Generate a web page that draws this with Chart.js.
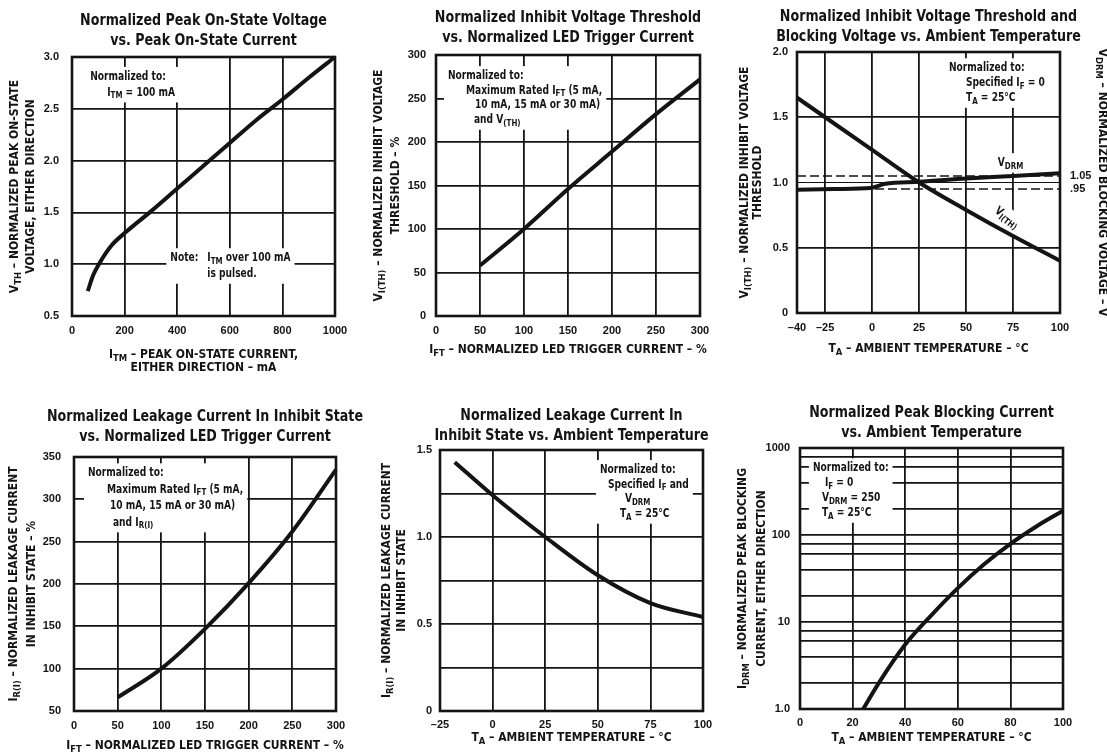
<!DOCTYPE html>
<html>
<head>
<meta charset="utf-8">
<script src="https://cdn.jsdelivr.net/npm/chart.js@4.4.1/dist/chart.umd.min.js"></script>
<style>
html, body { margin: 0; padding: 0; background: #fff; }
body { width: 1107px; height: 756px; position: relative; overflow: hidden; }
.panel { position: absolute; }
</style>
</head>
<body>
<div class="panel" id="p1"><canvas></canvas></div>
<div class="panel" id="p2"><canvas></canvas></div>
<div class="panel" id="p3"><canvas></canvas></div>
<div class="panel" id="p4"><canvas></canvas></div>
<div class="panel" id="p5"><canvas></canvas></div>
<div class="panel" id="p6"><canvas></canvas></div>
<script>
// 1: peak on-state voltage vs current
const onCurrent = [60, 80, 100, 150, 200, 300, 400, 500, 600, 700, 800, 900, 1000];
const onVoltage = [0.74, 0.89, 0.99, 1.18, 1.30, 1.51, 1.73, 1.95, 2.17, 2.39, 2.59, 2.80, 3.00];
const onCurrentTicks = [0, 200, 400, 600, 800, 1000];
const onCurrentLabels = ['0', '200', '400', '600', '800', '1000'];
const onVoltageTicks = [0.5, 1.0, 1.5, 2.0, 2.5, 3.0];
const onVoltageLabels = ['0.5', '1.0', '1.5', '2.0', '2.5', '3.0'];

// 2: inhibit threshold vs LED current
const ledCurrent = [50, 100, 150, 200, 250, 300];
const inhibitThreshold = [58, 100, 146, 189, 232, 272];
const pctTicks = [0, 50, 100, 150, 200, 250, 300];
const pctLabels = ['0', '50', '100', '150', '200', '250', '300'];

// 3: threshold and blocking voltage vs temperature
const tempA = [-40, -25, 0, 25, 50, 75, 100];
const thresholdVsTemp = [1.65, 1.50, 1.25, 1.00, 0.79, 0.59, 0.40];
const tempB = [-40, -20, 0, 7, 25, 50, 75, 100];
const blockingVsTemp = [0.945, 0.95, 0.96, 0.99, 1.005, 1.03, 1.05, 1.07];
const limitTemps = [-40, 100];
const upperLimit = [1.05, 1.05];
const lowerLimit = [0.95, 0.95];
const temp3Ticks = [-40, -25, 0, 25, 50, 75, 100];
const temp3Labels = ['\u201340', '\u201325', '0', '25', '50', '75', '100'];
const norm3Ticks = [0, 0.5, 1.0, 1.5, 2.0];
const norm3Labels = ['0', '0.5', '1.0', '1.5', '2.0'];
const blockTicks = [0.95, 1.05];
const blockLabels = ['.95', '1.05'];

// 4: leakage vs LED current
const leakCurrent = [50, 100, 150, 200, 250, 300];
const leakage = [66, 100, 147, 201, 262, 335];
const leakTicks = [50, 100, 150, 200, 250, 300, 350];
const leakLabels = ['50', '100', '150', '200', '250', '300', '350'];

// 5: leakage vs temperature
const temp5 = [-18, 0, 25, 50, 75, 100];
const leakVsTemp = [1.43, 1.24, 1.00, 0.78, 0.62, 0.54];
const temp5Ticks = [-25, 0, 25, 50, 75, 100];
const temp5Labels = ['\u201325', '0', '25', '50', '75', '100'];
const norm5Ticks = [0, 0.25, 0.5, 0.75, 1.0, 1.25, 1.5];
const norm5Labels = ['0', '', '0.5', '', '1.0', '', '1.5'];

// 6: peak blocking current vs temperature
const temp6 = [24, 30, 40, 50, 60, 70, 80, 90, 100];
const blockingCurrent = [1.0, 2.0, 5.5, 12, 24.5, 46, 79, 126, 190];
const temp6Ticks = [0, 20, 40, 60, 80, 100];
const temp6Labels = ['0', '20', '40', '60', '80', '100'];
const logGrid = [1, 2, 4, 6, 8, 10, 20, 40, 60, 80, 100, 200, 400, 600, 800, 1000];
const logLabelValues = [1, 10, 100, 1000];
const logLabelText = ['1.0', '10', '100', '1000'];

const INK = '#141414';
const FONT = '"DejaVu Sans Condensed", "Liberation Sans", Arial, sans-serif';
const TICK_FONT = '"Liberation Sans", Arial, sans-serif';
const TITLE_SIZE = 16, TITLE_SX = 0.88;
const TICK_SIZE = 11, AXIS_SIZE = 12;
const NOTE_SIZE = 11.5, NOTE_SX = 0.88, NOTE_PAD = 4;
const GRID_W = 1.8, FRAME_W = 2.6, CURVE_W = 4;

Chart.defaults.font.family = FONT;

function richParts(str) {
  return str.split(/(_\{[^}]*\})/).filter(Boolean).map(s =>
    s.startsWith('_{') ? {t: s.slice(2, -1), sub: true} : {t: s, sub: false});
}
function setFont(ctx, size, sub) {
  ctx.font = 'bold ' + (sub ? size * 0.78 : size) + 'px ' + FONT;
}
function richWidth(ctx, str, size) {
  let w = 0;
  richParts(str).forEach(p => { setFont(ctx, size, p.sub); w += ctx.measureText(p.t).width; });
  return w;
}
// text with _{sub} parts, sx squeezes it sideways
function drawRich(ctx, str, x, y, size, align, sx) {
  sx = sx || 1;
  ctx.save();
  ctx.translate(x, y);
  ctx.scale(sx, 1);
  let cx = align === 'center' ? -richWidth(ctx, str, size) / 2 : 0;
  ctx.textAlign = 'left';
  richParts(str).forEach(p => {
    setFont(ctx, size, p.sub);
    ctx.fillText(p.t, cx, p.sub ? size * 0.3 : 0);
    cx += ctx.measureText(p.t).width;
  });
  ctx.restore();
}

// notes with white boxes, plot frame, titles and axis titles
const sheetPlugin = {
  id: 'sheet',
  beforeDatasetsDraw(chart, args, opts) {
    const ctx = chart.ctx, a = chart.chartArea;
    const sx = chart.scales.x, sy = chart.scales.y;
    ctx.save();
    ctx.textBaseline = 'middle';
    (opts.notes || []).forEach(n => {
      ctx.save();
      ctx.translate(sx.getPixelForValue(n.x), sy.getPixelForValue(n.y));
      if (n.rot) ctx.rotate(n.rot * Math.PI / 180);
      let w = 0, rows = 0;
      n.lines.forEach(([dx, row, t]) => {
        w = Math.max(w, dx + richWidth(ctx, t, NOTE_SIZE) * NOTE_SX);
        rows = Math.max(rows, row);
      });
      ctx.fillStyle = '#fff';
      ctx.fillRect(-NOTE_PAD, -NOTE_SIZE / 2 - NOTE_PAD, w + 2 * NOTE_PAD, rows * n.lh + NOTE_SIZE + 2 * NOTE_PAD);
      ctx.fillStyle = INK;
      n.lines.forEach(([dx, row, t]) => drawRich(ctx, t, dx, row * n.lh, NOTE_SIZE, 'left', NOTE_SX));
      ctx.restore();
    });
    ctx.lineWidth = FRAME_W;
    ctx.strokeStyle = INK;
    ctx.strokeRect(a.left, a.top, a.right - a.left, a.bottom - a.top);
    ctx.restore();
  },
  afterDraw(chart, args, opts) {
    const ctx = chart.ctx, a = chart.chartArea;
    const mid = (a.left + a.right) / 2;
    ctx.save();
    ctx.fillStyle = INK;
    ctx.textBaseline = 'middle';
    opts.title.forEach((t, i) => drawRich(ctx, t, mid, opts.titleY[i], TITLE_SIZE, 'center', TITLE_SX));
    (opts.labels || []).forEach(l => {
      ctx.save();
      if (l.side === 'left') {
        ctx.translate(a.left - l.at, (a.top + a.bottom) / 2);
        ctx.rotate(-Math.PI / 2);
      } else if (l.side === 'right') {
        ctx.translate(a.right + l.at, (a.top + a.bottom) / 2);
        ctx.rotate(Math.PI / 2);
      } else {
        ctx.translate(mid, a.bottom + l.at);
      }
      drawRich(ctx, l.text, 0, 0, AXIS_SIZE, 'center');
      ctx.restore();
    });
    ctx.restore();
  }
};

function axisOpts(ax, position, fit) {
  return {
    type: ax.type || 'linear',
    position: position,
    min: ax.min,
    max: ax.max,
    afterBuildTicks: s => { s.ticks = ax.ticks.map(v => ({value: v})); },
    afterFit: fit,
    grid: {display: ax.grid !== false, color: INK, lineWidth: ax.gridWidth || GRID_W, drawTicks: false},
    border: {display: false},
    ticks: {
      autoSkip: false, maxRotation: 0, padding: ax.pad, color: INK,
      font: {family: TICK_FONT, size: TICK_SIZE, weight: 'bold'},
      callback: (v, i) => ax.labels[i]
    }
  };
}

function seriesOpts(s) {
  return {
    data: s.x.map((v, i) => ({x: v, y: s.y[i]})),
    borderColor: INK,
    borderWidth: s.width || CURVE_W,
    borderDash: s.dash || [],
    pointRadius: 0,
    cubicInterpolationMode: s.dash ? 'default' : 'monotone',
    tension: s.dash ? 0 : 0.4,
    fill: false,
    clip: false
  };
}

function panel(id, cfg) {
  const [cl, ct, cw, ch] = cfg.box;
  const [pl, pt, pr, pb] = cfg.plot;
  const wrap = document.getElementById(id);
  Object.assign(wrap.style, {left: cl + 'px', top: ct + 'px', width: cw + 'px', height: ch + 'px'});
  const scales = {
    x: axisOpts(cfg.x, 'bottom', s => { s.height = ct + ch - pb; }),
    y: axisOpts(cfg.y, 'left', s => { s.width = pl - cl; })
  };
  if (cfg.y2) scales.y2 = axisOpts(cfg.y2, 'right', s => { s.width = cl + cw - pr; });
  return new Chart(wrap.querySelector('canvas'), {
    type: 'line',
    data: {datasets: cfg.series.map(seriesOpts)},
    options: {
      responsive: true,
      maintainAspectRatio: false,
      animation: false,
      events: [],
      layout: {padding: {left: 0, top: pt - ct, bottom: 0, right: cfg.y2 ? 0 : cl + cw - pr}},
      scales: scales,
      plugins: {
        legend: {display: false},
        tooltip: {enabled: false},
        title: {display: false},
        sheet: {title: cfg.title, titleY: cfg.titleY.map(y => y - ct), notes: cfg.notes, labels: cfg.labels}
      }
    },
    plugins: [sheetPlugin]
  });
}

panel('p1', {
  box: [0, 0, 358, 385], plot: [72, 57, 335, 316], titleY: [21, 41],
  title: ['Normalized Peak On-State Voltage', 'vs. Peak On-State Current'],
  x: {min: 0, max: 1000, ticks: onCurrentTicks, labels: onCurrentLabels, pad: 8},
  y: {min: 0.5, max: 3.0, ticks: onVoltageTicks, labels: onVoltageLabels, pad: 13},
  series: [{x: onCurrent, y: onVoltage}],
  notes: [
    {x: 69, y: 2.81, lh: 16, lines: [[0, 0, 'Normalized to:'], [17, 1, 'I_{TM} = 100 mA']]},
    {x: 374, y: 1.06, lh: 16, lines: [[0, 0, 'Note:'], [37, 0, 'I_{TM} over 100 mA'], [37, 1, 'is pulsed.']]}
  ],
  labels: [
    {side: 'left', at: 57, text: 'V_{TH} \u2013 NORMALIZED PEAK ON-STATE'},
    {side: 'left', at: 41, text: 'VOLTAGE, EITHER DIRECTION'},
    {side: 'bottom', at: 39, text: 'I_{TM} \u2013 PEAK ON-STATE CURRENT,'},
    {side: 'bottom', at: 52, text: 'EITHER DIRECTION \u2013 mA'}
  ]
});

panel('p2', {
  box: [360, 0, 368, 385], plot: [436, 55, 700, 316], titleY: [18, 38],
  title: ['Normalized Inhibit Voltage Threshold', 'vs. Normalized LED Trigger Current'],
  x: {min: 0, max: 300, ticks: pctTicks, labels: pctLabels, pad: 8},
  y: {min: 0, max: 300, ticks: pctTicks, labels: pctLabels, pad: 10},
  series: [{x: ledCurrent, y: inhibitThreshold}],
  notes: [
    {x: 13.6, y: 276, lh: 14.7, lines: [[0, 0, 'Normalized to:'], [18, 1, 'Maximum Rated I_{FT} (5 mA,'],
      [27, 2, '10 mA, 15 mA or 30 mA)'], [26, 3, 'and V_{(TH)}']]}
  ],
  labels: [
    {side: 'left', at: 57, text: 'V_{I(TH)} \u2013 NORMALIZED INHIBIT VOLTAGE'},
    {side: 'left', at: 40, text: 'THRESHOLD \u2013 %'},
    {side: 'bottom', at: 34, text: 'I_{FT} \u2013 NORMALIZED LED TRIGGER CURRENT \u2013 %'}
  ]
});

panel('p3', {
  box: [730, 0, 377, 385], plot: [797, 52, 1060, 313], titleY: [17, 37],
  title: ['Normalized Inhibit Voltage Threshold and', 'Blocking Voltage vs. Ambient Temperature'],
  x: {min: -40, max: 100, ticks: temp3Ticks, labels: temp3Labels, pad: 8},
  y: {min: 0, max: 2, ticks: norm3Ticks, labels: norm3Labels, pad: 9,
    gridWidth: c => (c.tick && c.tick.value === 1 ? 1 : GRID_W)},
  y2: {min: 0, max: 2, ticks: blockTicks, labels: blockLabels, pad: 10, grid: false},
  series: [
    {x: tempA, y: thresholdVsTemp},
    {x: tempB, y: blockingVsTemp},
    {x: limitTemps, y: upperLimit, width: 1.5, dash: [9, 4]},
    {x: limitTemps, y: lowerLimit, width: 1.5, dash: [9, 4]}
  ],
  notes: [
    {x: 40.9, y: 1.877, lh: 15, lines: [[0, 0, 'Normalized to:'], [17, 1, 'Specified I_{F} = 0'], [17, 2, 'T_{A} = 25\u00b0C']]},
    {x: 66.9, y: 1.15, lh: 15, lines: [[0, 0, 'V_{DRM}']]},
    {x: 65.9, y: 0.793, lh: 15, rot: 37, lines: [[0, 0, 'V_{I(TH)}']]}
  ],
  labels: [
    {side: 'left', at: 52, text: 'V_{I(TH)} \u2013 NORMALIZED INHIBIT VOLTAGE'},
    {side: 'left', at: 39, text: 'THRESHOLD'},
    {side: 'right', at: 42, text: 'V_{DRM} \u2013 NORMALIZED BLOCKING VOLTAGE \u2013 V'},
    {side: 'bottom', at: 36, text: 'T_{A} \u2013 AMBIENT TEMPERATURE \u2013 \u00b0C'}
  ]
});

panel('p4', {
  box: [0, 392, 368, 364], plot: [74, 457, 336, 711], titleY: [417, 437],
  title: ['Normalized Leakage Current In Inhibit State', 'vs. Normalized LED Trigger Current'],
  x: {min: 0, max: 300, ticks: pctTicks, labels: pctLabels, pad: 8},
  y: {min: 50, max: 350, ticks: leakTicks, labels: leakLabels, pad: 13},
  series: [{x: leakCurrent, y: leakage}],
  notes: [
    {x: 16, y: 331, lh: 16.5, lines: [[0, 0, 'Normalized to:'], [19, 1, 'Maximum Rated I_{FT} (5 mA,'],
      [22, 2, '10 mA, 15 mA or 30 mA)'], [25, 3, 'and I_{R(I)}']]}
  ],
  labels: [
    {side: 'left', at: 60, text: 'I_{R(I)} \u2013 NORMALIZED LEAKAGE CURRENT'},
    {side: 'left', at: 42, text: 'IN INHIBIT STATE \u2013 %'},
    {side: 'bottom', at: 35, text: 'I_{FT} \u2013 NORMALIZED LED TRIGGER CURRENT \u2013 %'}
  ]
});

panel('p5', {
  box: [370, 392, 362, 364], plot: [440, 450, 703, 711], titleY: [416, 436],
  title: ['Normalized Leakage Current In', 'Inhibit State vs. Ambient Temperature'],
  x: {min: -25, max: 100, ticks: temp5Ticks, labels: temp5Labels, pad: 7},
  y: {min: 0, max: 1.5, ticks: norm5Ticks, labels: norm5Labels, pad: 8},
  series: [{x: temp5, y: leakVsTemp}],
  notes: [
    {x: 51, y: 1.386, lh: 14.7, lines: [[0, 0, 'Normalized to:'], [8, 1, 'Specified I_{F} and'],
      [25, 2, 'V_{DRM}'], [20, 3, 'T_{A} = 25\u00b0C']]}
  ],
  labels: [
    {side: 'left', at: 53, text: 'I_{R(I)} \u2013 NORMALIZED LEAKAGE CURRENT'},
    {side: 'left', at: 38, text: 'IN INHIBIT STATE'},
    {side: 'bottom', at: 27, text: 'T_{A} \u2013 AMBIENT TEMPERATURE \u2013 \u00b0C'}
  ]
});

panel('p6', {
  box: [732, 392, 375, 364], plot: [800, 448, 1063, 709], titleY: [413, 433],
  title: ['Normalized Peak Blocking Current', 'vs. Ambient Temperature'],
  x: {min: 0, max: 100, ticks: temp6Ticks, labels: temp6Labels, pad: 7},
  y: {type: 'logarithmic', min: 1, max: 1000, ticks: logGrid, pad: 10,
    labels: logGrid.map(v => { const k = logLabelValues.indexOf(v); return k < 0 ? '' : logLabelText[k]; })},
  series: [{x: temp6, y: blockingCurrent}],
  notes: [
    {x: 4.9, y: 589, lh: 15, lines: [[0, 0, 'Normalized to:'], [12, 1, 'I_{F} = 0'],
      [9, 2, 'V_{DRM} = 250'], [9, 3, 'T_{A} = 25\u00b0C']]}
  ],
  labels: [
    {side: 'left', at: 57, text: 'I_{DRM} \u2013 NORMALIZED PEAK BLOCKING'},
    {side: 'left', at: 38, text: 'CURRENT, EITHER DIRECTION'},
    {side: 'bottom', at: 29, text: 'T_{A} \u2013 AMBIENT TEMPERATURE \u2013 \u00b0C'}
  ]
});
</script>
</body>
</html>
